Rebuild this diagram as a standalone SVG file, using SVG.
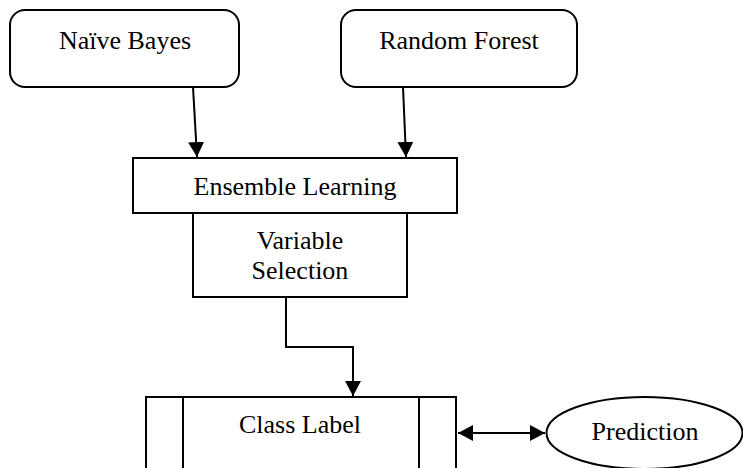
<svg xmlns="http://www.w3.org/2000/svg" width="743" height="468" viewBox="0 0 743 468">
  <defs>
    <marker id="ah" markerWidth="16" markerHeight="16" refX="15" refY="8" orient="auto-start-reverse" markerUnits="userSpaceOnUse">
      <path d="M0,0 L15,8 L0,16 Z" fill="#000"/>
    </marker>
    <style>
      .box { fill: #fff; stroke: #000; stroke-width: 2; }
      .line { fill: none; stroke: #000; stroke-width: 2; }
      .lbl { font-family: 'Liberation Serif', 'DejaVu Serif', serif; font-size: 26px; fill: #000; text-anchor: middle; }
    </style>
  </defs>
  <rect width="743" height="468" fill="#fff"/>

  <g id="naive-bayes">
    <rect class="box" x="10" y="10" width="229" height="77" rx="15" ry="15"/>
    <text class="lbl" x="125" y="49" font-family="Liberation Serif, serif">Naïve Bayes</text>
  </g>

  <g id="random-forest">
    <rect class="box" x="341" y="10" width="236" height="77" rx="15" ry="15"/>
    <text class="lbl" x="459" y="49" font-family="Liberation Serif, serif">Random Forest</text>
  </g>

  <g id="ensemble-learning">
    <rect class="box" x="133" y="158" width="324" height="55"/>
    <text class="lbl" x="295" y="195" font-family="Liberation Serif, serif">Ensemble Learning</text>
  </g>

  <g id="variable-selection">
    <rect class="box" x="193" y="213" width="214" height="84"/>
    <text class="lbl" x="300" y="249" font-family="Liberation Serif, serif">Variable</text>
    <text class="lbl" x="300" y="279" font-family="Liberation Serif, serif">Selection</text>
  </g>

  <g id="class-label">
    <rect class="box" x="146" y="397" width="310" height="80"/>
    <line class="line" x1="183" y1="397" x2="183" y2="477"/>
    <line class="line" x1="419" y1="397" x2="419" y2="477"/>
    <text class="lbl" x="300" y="433" font-family="Liberation Serif, serif">Class Label</text>
  </g>

  <g id="prediction">
    <ellipse class="box" cx="644.5" cy="433" rx="98" ry="36"/>
    <text class="lbl" x="645" y="440" font-family="Liberation Serif, serif">Prediction</text>
  </g>

  <g id="connectors">
    <line class="line" x1="193" y1="87" x2="197" y2="157" marker-end="url(#ah)"/>
    <line class="line" x1="403" y1="87" x2="406" y2="157" marker-end="url(#ah)"/>
    <polyline class="line" points="286,297 286,347 353,347 353,396" marker-end="url(#ah)"/>
    <line class="line" x1="458" y1="433" x2="545" y2="433" marker-start="url(#ah)" marker-end="url(#ah)"/>
  </g>
</svg>
